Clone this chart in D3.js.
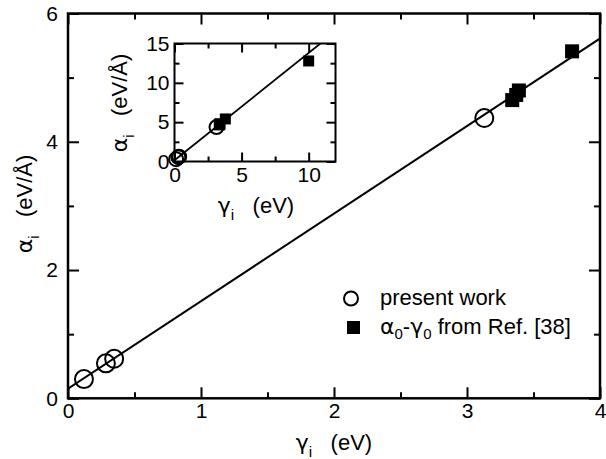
<!DOCTYPE html>
<html>
<head>
<meta charset="utf-8">
<script src="https://cdn.jsdelivr.net/npm/d3@7"></script>
<style>
  html, body { margin: 0; padding: 0; background: #fff; }
  svg { display: block; }
  text { font-family: "Liberation Sans", Arial, sans-serif; fill: #000; }
  .greek { font-family: "DejaVu Sans", sans-serif; }
</style>
</head>
<body>
<svg id="chart" width="606" height="459"></svg>
<script>
// present work: gamma_i (eV) vs alpha_i (eV/Å)
const presentGamma = [0.12, 0.285, 0.347, 3.13];
const presentAlpha = [0.30, 0.545, 0.616, 4.37];

// alpha_0 - gamma_0 pairs from Ref. [38]
const refGamma = [3.34, 3.37, 3.39, 3.79, 10.0];
const refAlpha = [4.65, 4.73, 4.80, 5.41, 12.78];

// linear fit through both sets (two end points)
const fitGamma = [0, 12];
const fitAlpha = [0.15, 16.53];

// axis ticks
const mainXTicks = [0, 1, 2, 3, 4];
const mainXMinor = [0.5, 1.5, 2.5, 3.5];
const mainYTicks = [0, 2, 4, 6];
const mainYMinor = [1, 3, 5];
const insetXTicks = [0, 5, 10];
const insetXMinor = [2.5, 7.5];
const insetYTicks = [0, 5, 10, 15];
const insetYMinor = [2.5, 7.5, 12.5];

const legendLabels = ["present work", "from Ref. [38]"];

const svg = d3.select("#chart");
const TICK_FONT = 21;
const TITLE_FONT = 22;

function axisFor(side, x, y) {
  return side === "bottom" ? d3.axisBottom(x)
       : side === "top" ? d3.axisTop(x)
       : side === "left" ? d3.axisLeft(y)
       : d3.axisRight(y);
}

function panel(cfg) {
  const g = svg.append("g");
  const x = d3.scaleLinear().domain(cfg.xDomain).range([cfg.left, cfg.right]);
  const y = d3.scaleLinear().domain(cfg.yDomain).range([cfg.bottom, cfg.top]);
  const w = cfg.right - cfg.left, h = cfg.bottom - cfg.top;

  g.append("rect")
    .attr("x", cfg.left).attr("y", cfg.top)
    .attr("width", w).attr("height", h)
    .attr("fill", "#fff");

  const clipId = cfg.id + "-clip";
  svg.append("clipPath").attr("id", clipId)
    .append("rect").attr("x", cfg.left).attr("y", cfg.top)
    .attr("width", w).attr("height", h);

  // ticks pointing inward on all four sides; labels on bottom and left only
  const sides = [
    ["bottom", `translate(0,${cfg.bottom})`, "x", true],
    ["top", `translate(0,${cfg.top})`, "x", false],
    ["left", `translate(${cfg.left},0)`, "y", true],
    ["right", `translate(${cfg.right},0)`, "y", false]
  ];
  sides.forEach(([side, tr, dir, labelled]) => {
    const major = dir === "x" ? cfg.xTicks : cfg.yTicks;
    const minor = dir === "x" ? cfg.xMinor : cfg.yMinor;
    const gMaj = g.append("g").attr("transform", tr)
      .call(axisFor(side, x, y)
        .tickValues(major).tickSize(-cfg.major)
        .tickPadding(dir === "x" ? cfg.xPad : cfg.yPad)
        .tickFormat(labelled ? d3.format("d") : () => ""));
    gMaj.select(".domain").remove();
    gMaj.selectAll("line").attr("stroke", "#000").attr("stroke-width", cfg.tickW);
    gMaj.selectAll("text")
      .style("font-size", TICK_FONT + "px")
      .style("font-family", "'Liberation Sans', Arial, sans-serif");
    const gMin = g.append("g").attr("transform", tr)
      .call(axisFor(side, x, y)
        .tickValues(minor).tickSize(-cfg.minor).tickFormat(() => ""));
    gMin.select(".domain").remove();
    gMin.selectAll("line").attr("stroke", "#000").attr("stroke-width", cfg.tickW);
  });

  // fit line
  g.append("path")
    .attr("clip-path", `url(#${clipId})`)
    .attr("d", d3.line()(fitGamma.map((v, i) => [x(v), y(fitAlpha[i])])))
    .attr("fill", "none").attr("stroke", "#000").attr("stroke-width", cfg.lineW);

  // Ref. [38] squares (only those inside the panel's range)
  const inX = d => d >= cfg.xDomain[0] && d <= cfg.xDomain[1];
  const inY = d => d >= cfg.yDomain[0] && d <= cfg.yDomain[1];
  g.append("g").selectAll("rect")
    .data(refGamma.map((v, i) => [v, refAlpha[i]]).filter(d => inX(d[0]) && inY(d[1])))
    .join("rect")
    .attr("x", d => x(d[0]) - cfg.sq / 2)
    .attr("y", d => y(d[1]) - cfg.sq / 2)
    .attr("width", cfg.sq).attr("height", cfg.sq)
    .attr("fill", "#000");

  // present work circles
  g.append("g").selectAll("circle")
    .data(presentGamma.map((v, i) => [v, presentAlpha[i]]))
    .join("circle")
    .attr("cx", d => x(d[0])).attr("cy", d => y(d[1]))
    .attr("r", cfg.r)
    .attr("fill", "none").attr("stroke", "#000").attr("stroke-width", 2);

  // frame
  g.append("rect")
    .attr("x", cfg.left).attr("y", cfg.top)
    .attr("width", w).attr("height", h)
    .attr("fill", "none").attr("stroke", "#000").attr("stroke-width", cfg.frameW);

  return { x, y };
}

// main panel
panel({
  id: "main",
  left: 68, right: 600, top: 13.5, bottom: 398.3,
  xDomain: [0, 4], yDomain: [0, 6],
  xTicks: mainXTicks, xMinor: mainXMinor,
  yTicks: mainYTicks, yMinor: mainYMinor,
  major: 11, minor: 6, xPad: 5, yPad: 10,
  tickW: 2, frameW: 2.5, lineW: 2,
  r: 9, sq: 14
});

// inset panel
panel({
  id: "inset",
  left: 174.5, right: 335.5, top: 43.5, bottom: 161.5,
  xDomain: [0, 12], yDomain: [0, 15],
  xTicks: insetXTicks, xMinor: insetXMinor,
  yTicks: insetYTicks, yMinor: insetYMinor,
  major: 9, minor: 5, xPad: 6, yPad: 5,
  tickW: 2, frameW: 2, lineW: 1.8,
  r: 7, sq: 11
});

// axis titles: greek symbol, subscript i, unit
function title(x, y, rotate, greek, rest, size) {
  const t = svg.append("text")
    .attr("transform", `translate(${x},${y})` + (rotate ? " rotate(-90)" : ""))
    .attr("text-anchor", "middle")
    .style("font-size", size + "px");
  t.append("tspan").attr("class", "greek").text(greek);
  t.append("tspan").attr("dy", size * 0.3).style("font-size", (size * 0.7) + "px").text("i");
  t.append("tspan").attr("dy", -size * 0.3).text("\u00a0\u00a0\u00a0" + rest);
}
title(334, 450, false, "\u03b3", "(eV)", TITLE_FONT);
title(32, 204, true, "\u03b1", "(eV/\u00c5)", TITLE_FONT);
title(256, 213, false, "\u03b3", "(eV)", TITLE_FONT);
title(127, 103, true, "\u03b1", "(eV/\u00c5)", TITLE_FONT);

// legend
const lg = svg.append("g");
lg.append("circle").attr("cx", 351).attr("cy", 298.5).attr("r", 7)
  .attr("fill", "none").attr("stroke", "#000").attr("stroke-width", 2);
lg.append("text").attr("x", 380).attr("y", 305).style("font-size", TITLE_FONT + "px").text(legendLabels[0]);
lg.append("rect").attr("x", 347).attr("y", 321).attr("width", 13).attr("height", 13).attr("fill", "#000");
const l2 = lg.append("text").attr("x", 380).attr("y", 334).style("font-size", TITLE_FONT + "px");
l2.append("tspan").attr("class", "greek").text("\u03b1");
l2.append("tspan").attr("dy", 5).style("font-size", "15px").text("0");
l2.append("tspan").attr("dy", -5).text("-");
l2.append("tspan").attr("class", "greek").text("\u03b3");
l2.append("tspan").attr("dy", 5).style("font-size", "15px").text("0");
l2.append("tspan").attr("dy", -5).text(" " + legendLabels[1]);
</script>
</body>
</html>
